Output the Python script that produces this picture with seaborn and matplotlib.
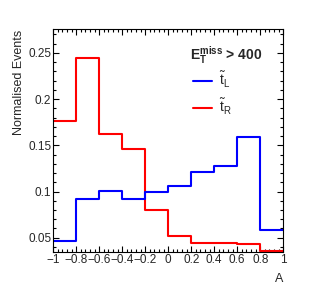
import numpy as np
import pandas as pd
import matplotlib
matplotlib.use("Agg")
import matplotlib.pyplot as plt
from matplotlib.lines import Line2D
from matplotlib.ticker import MultipleLocator
import seaborn as sns

# bin edges of the asymmetry variable A
bin_edges = [-1.0, -0.8, -0.6, -0.4, -0.2, 0.0, 0.2, 0.4, 0.6, 0.8, 1.0]
# normalised events per bin
stop_L = [0.0464, 0.0918, 0.101, 0.0924, 0.100, 0.106, 0.121, 0.1277, 0.159, 0.0586]
stop_R = [0.176, 0.244, 0.1625, 0.146, 0.080, 0.052, 0.0446, 0.0446, 0.0435, 0.0355]

xticks = [-1, -0.8, -0.6, -0.4, -0.2, 0, 0.2, 0.4, 0.6, 0.8, 1]
xtick_labels = ["\u22121", "\u22120.8", "\u22120.6", "\u22120.4", "\u22120.2",
                "0", "0.2", "0.4", "0.6", "0.8", "1"]
yticks = [0.05, 0.1, 0.15, 0.2, 0.25]
ytick_labels = ["0.05", "0.1", "0.15", "0.2", "0.25"]

centers = [(a + b) / 2 for a, b in zip(bin_edges[:-1], bin_edges[1:])]
df = pd.DataFrame({
    "A": centers * 2,
    "w": stop_L + stop_R,
    "sample": ["L"] * len(centers) + ["R"] * len(centers),
})

sns.set_style("ticks")
plt.rcParams["font.family"] = ["Liberation Sans", "DejaVu Sans"]
plt.rcParams["mathtext.fontset"] = "custom"
plt.rcParams["mathtext.rm"] = "Liberation Sans"
plt.rcParams["mathtext.it"] = "Liberation Sans:italic"
plt.rcParams["mathtext.bf"] = "Liberation Sans:bold"

fig = plt.figure(figsize=(3.15, 2.97), dpi=100)
ax = fig.add_axes([0.169, 0.1525, 0.73, 0.7485])

sns.histplot(data=df, x="A", weights="w", hue="sample", bins=bin_edges,
             element="step", fill=False, palette={"L": "#0000ff", "R": "#ff0000"},
             linewidth=1.5, legend=False, ax=ax)

ax.set_xlim(-1, 1)
ax.set_ylim(0.0349, 0.2753)
ax.set_xticks(xticks)
ax.set_xticklabels(xtick_labels)
ax.set_yticks(yticks)
ax.set_yticklabels(ytick_labels)
ax.xaxis.set_minor_locator(MultipleLocator(0.04))
ax.yaxis.set_minor_locator(MultipleLocator(0.01))
ax.tick_params(which="both", direction="in", top=True, right=True,
               labelsize=8.5, width=0.8, color="black")
ax.tick_params(which="major", length=4.5, pad=2)
ax.tick_params(which="minor", length=2.5)
ax.tick_params(axis="y", pad=1.5)
for s in ax.spines.values():
    s.set_linewidth(0.8)
    s.set_color("black")

ax.set_xlabel("A", loc="right", fontsize=9, labelpad=5)
ax.set_ylabel("Normalised Events", loc="top", fontsize=9, labelpad=2)

ax.text(0.594, 0.884, r"$\mathbf{E}_{\mathbf{T}}^{\mathbf{miss}}$ > 400",
        transform=ax.transAxes, fontsize=10, fontweight="bold",
        ha="left", va="center")

handles = [Line2D([], [], color="#0000ff", lw=1.5),
           Line2D([], [], color="#ff0000", lw=1.5)]
labels = [r"$\tilde{\mathrm{t}}_{\mathrm{L}}$", r"$\tilde{\mathrm{t}}_{\mathrm{R}}$"]
ax.legend(handles, labels, frameon=False, loc="upper left",
          bbox_to_anchor=(0.553, 0.872), fontsize=10, handlelength=1.4,
          handletextpad=0.5, labelspacing=0.45)

fig.savefig("out.png", dpi=100)
